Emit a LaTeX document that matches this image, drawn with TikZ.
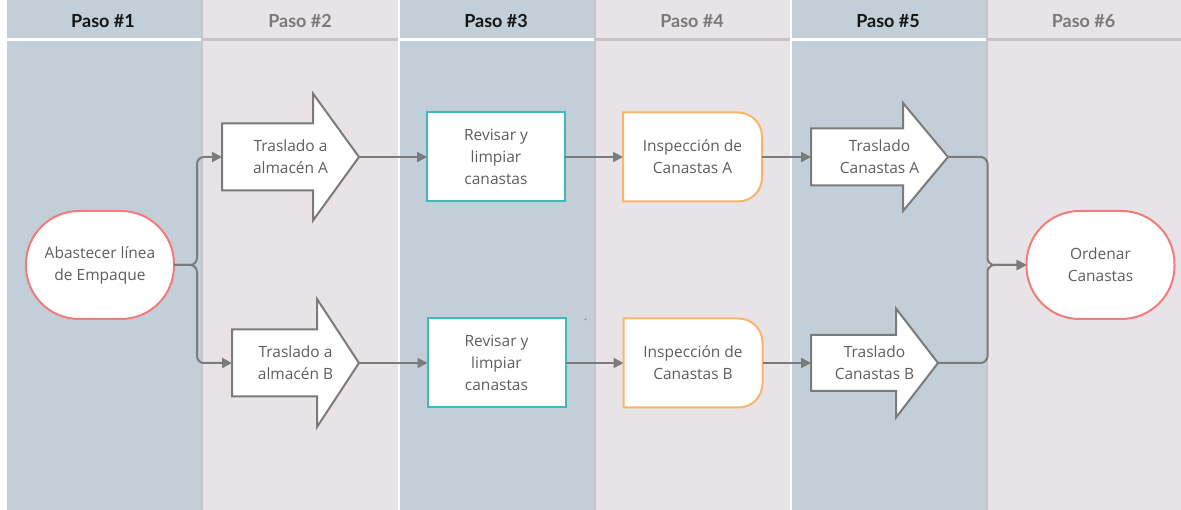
\documentclass[tikz,border=0pt]{standalone}
\usepackage{fontspec}
\setmainfont{Open Sans}
\newfontfamily\latofont{Lato}
\usetikzlibrary{arrows.meta,calc}
\pgfdeclarelayer{back}
\pgfdeclarelayer{mid}
\pgfsetlayers{back,mid,main}

\definecolor{laneblue}{HTML}{C2CFD8}
\definecolor{lanegray}{HTML}{E8E3E7}
\definecolor{lanegrayline}{HTML}{C9C4C9}
\definecolor{labeltxt}{HTML}{5E5E5E}
\definecolor{connline}{HTML}{7B7B7B}
\definecolor{startred}{HTML}{F07C7C}
\definecolor{boxteal}{HTML}{3DBAB8}
\definecolor{orangeline}{HTML}{F9B66A}
\definecolor{headgray}{HTML}{7A7A7A}
\definecolor{headdark}{HTML}{151515}

\tikzset{
  label text/.style={font=\fontsize{15.5}{22}\selectfont, text=labeltxt, align=center,
    inner sep=0pt, outer sep=0pt},
  terminal/.style={label text, draw=startred, fill=white, line width=2pt,
    minimum width=148pt, minimum height=108pt, rounded corners=53pt},
  taskbox/.style={label text, draw=boxteal, fill=white, line width=2pt,
    minimum width=138pt, minimum height=89pt},
  delaybox/.style={label text, minimum width=139pt, minimum height=89pt},
  movebox/.style={label text},
  arrowshape/.style={draw=connline, fill=white, line width=2pt, line join=miter},
  delayshape/.style={draw=orangeline, fill=white, line width=2pt},
  conn/.style={draw=connline, line width=2pt, rounded corners=7pt,
    -{Triangle[length=10pt,width=10pt]}},
  headodd/.style={font=\latofont\bfseries\fontsize{18}{20}\selectfont, text=headdark, anchor=base},
  headeven/.style={font=\latofont\bfseries\fontsize{18}{20}\selectfont, text=headgray, anchor=base},
}

% block arrow outline around a node: #1 node, #2 head length, #3 half shaft height
\newcommand\moveoutline[3]{%
  \draw[arrowshape] ([yshift=#3]#1.west) -- ([xshift=-#2,yshift=#3]#1.east)
    -- ([xshift=-#2]#1.north east) -- (#1.east) -- ([xshift=-#2]#1.south east)
    -- ([xshift=-#2,yshift=-#3]#1.east) -- ([yshift=-#3]#1.west) -- cycle;}

% delay shape (flat left side, rounded right corners) around a node
\newcommand\delayoutline[1]{%
  \draw[delayshape] (#1.north west) -- ([xshift=-24]#1.north east)
    .. controls ([xshift=-10.7]#1.north east) and ([yshift=-10.7]#1.north east) .. ([yshift=-24]#1.north east)
    -- ([yshift=24]#1.south east)
    .. controls ([yshift=10.7]#1.south east) and ([xshift=-10.7]#1.south east) .. ([xshift=-24]#1.south east)
    -- (#1.south west) -- cycle;}

\begin{document}
\begin{tikzpicture}[x=1pt,y=-1pt]
\useasboundingbox (0,0) rectangle (1181,510);

% swimlanes
\begin{pgfonlayer}{back}
  \fill[white] (0,0) rectangle (1181,510);
  \fill[laneblue] (7,0) rectangle (201,510);
  \fill[lanegray] (201,0) rectangle (398,510);
  \fill[laneblue] (398,0) rectangle (594,510);
  \fill[lanegray] (594,0) rectangle (790,510);
  \fill[laneblue] (790,0) rectangle (986,510);
  \fill[lanegray] (986,0) rectangle (1181,510);
  % header separators
  \draw[white, line width=2.5pt] (7,39.5) -- (201,39.5) (398,39.5) -- (594,39.5) (790,39.5) -- (986,39.5);
  \draw[lanegrayline, line width=2.5pt] (201,39.5) -- (398,39.5) (594,39.5) -- (790,39.5) (986,39.5) -- (1181,39.5);
  % lane borders
  \draw[lanegrayline, line width=2pt] (202,0) -- (202,510) (595,0) -- (595,510) (987,0) -- (987,510);
  \draw[white, line width=2pt] (399,0) -- (399,510) (791,0) -- (791,510);
\end{pgfonlayer}

% lane titles
\node[headodd]  (h1) at (103,27.5)    {Paso \#1};
\node[headeven] (h2) at (300,27.5)    {Paso \#2};
\node[headodd]  (h3) at (496,27.5)    {Paso \#3};
\node[headeven] (h4) at (692,27.5)    {Paso \#4};
\node[headodd]  (h5) at (888,27.5)    {Paso \#5};
\node[headeven] (h6) at (1083.5,27.5) {Paso \#6};

% process steps
\node[terminal] (ab) at (100,265) {Abastecer línea\\de Empaque};
\node[movebox, minimum width=137pt, minimum height=127pt] (tA) at (290.5,157) {Traslado a\\almacén A};
\node[movebox, minimum width=127pt, minimum height=128pt] (tB) at (295.5,363) {Traslado a\\almacén B};
\node[taskbox] (rA) at (496,157) {Revisar y\\limpiar\\canastas};
\node[taskbox] (rB) at (496.5,363) {Revisar y\\limpiar\\canastas};
\node[delaybox] (iA) at (692.5,157) {Inspección de\\Canastas A};
\node[delaybox] (iB) at (693,363) {Inspección de\\Canastas B};
\node[movebox, minimum width=137pt, minimum height=108pt] (cA) at (879.5,157) {Traslado\\Canastas A};
\node[movebox, minimum width=127pt, minimum height=109pt] (cB) at (874.5,363) {Traslado\\Canastas B};
\node[terminal] (or) at (1100.5,265) {Ordenar\\Canastas};

\begin{pgfonlayer}{mid}
  \moveoutline{tA}{46}{33.5}
  \moveoutline{tB}{42}{33.5}
  \moveoutline{cA}{45}{28.5}
  \moveoutline{cB}{42}{28}
  \delayoutline{iA}
  \delayoutline{iB}
  \fill[connline] (585.5,319.5) circle (0.9pt);
\end{pgfonlayer}

% flow
\draw[conn] (ab.east) -- ([xshift=23]ab.east) |- (tA.west);
\draw[conn] (ab.east) -- ([xshift=23]ab.east) |- (tB.west);
\draw[conn] (tA.east) -- (rA.west);
\draw[conn] (tB.east) -- (rB.west);
\draw[conn] (rA.east) -- (iA.west);
\draw[conn] (rB.east) -- (iB.west);
\draw[conn] (iA.east) -- (cA.west);
\draw[conn] (iB.east) -- (cB.west);
\draw[conn] (cA.east) -| ([xshift=-39]or.west) -- (or.west);
\draw[conn] (cB.east) -| ([xshift=-39]or.west) -- (or.west);
\end{tikzpicture}
\end{document}
